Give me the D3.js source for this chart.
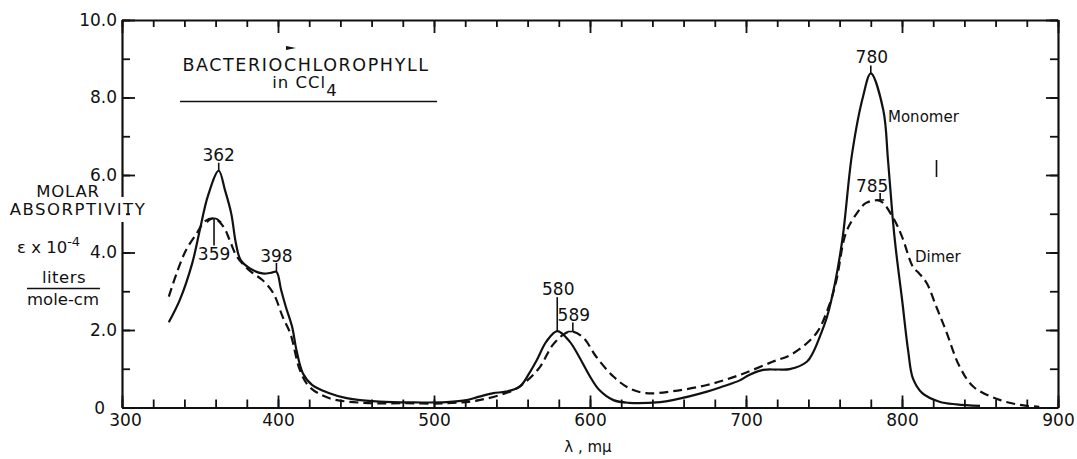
<!DOCTYPE html>
<html><head><meta charset="utf-8">
<script src="https://cdn.jsdelivr.net/npm/d3@7/dist/d3.min.js"></script>
<style>
body{margin:0;background:#fff;}
text{font-family:"DejaVu Sans",sans-serif;fill:#111;}
</style></head>
<body><svg id="c" width="1077" height="459"></svg>
<script>
// ---- data ----
const monomerLambda = [330,337,345,350,355,362,366,370,373,376,382,390,396,399,402,405,409,412,416,422,433,444,465,487,508,521,529,538,546,555,561,566,572,579,587,593,600,606,615,625,645,653,675,685,696,702,711,720,728,739,743,748,752,757,762,768,775,780,788,791,794,796,800,804,807,813,824,835,850];
const monomerValue  = [2.2,2.77,3.72,4.6,5.45,6.11,5.61,5.01,4.24,3.81,3.59,3.46,3.48,3.5,3.03,2.6,2.09,1.45,0.88,0.58,0.37,0.24,0.15,0.13,0.14,0.19,0.28,0.37,0.41,0.54,0.88,1.23,1.7,1.97,1.7,1.31,0.8,0.45,0.19,0.12,0.14,0.19,0.41,0.54,0.7,0.84,0.97,0.98,0.99,1.18,1.42,1.9,2.35,3.2,4.4,6.55,8.02,8.62,7.68,6.4,4.9,4.1,2.8,1.45,0.75,0.37,0.15,0.08,0.04];
const dimerLambda = [330,335,341,348,353,359,365,369,373,378,384,390,397,403,408,414,420,433,455,480,508,529,551,559,568,576,584,589,596,604,615,625,636,653,675,696,717,730,745,753,758,764,771,777,786,794,800,807,811,816,822,828,837,846,863,877,888];
const dimerValue  = [2.86,3.46,4.06,4.5,4.8,4.88,4.67,4.32,3.94,3.68,3.46,3.29,2.95,2.34,1.9,0.97,0.54,0.24,0.12,0.11,0.11,0.19,0.45,0.67,1.05,1.61,1.91,1.96,1.79,1.31,0.8,0.5,0.37,0.42,0.58,0.84,1.18,1.39,1.91,2.6,3.29,4.5,5.01,5.28,5.33,4.92,4.41,3.63,3.46,3.2,2.6,2.0,1.05,0.53,0.19,0.06,0.02];
const xMajorTicks = [300,400,500,600,700,800,900];
const yMajorTicks = [0,2,4,6,8,10];
const peakLabels = ["362","359","398","580","589","780","785"];

// ---- scales ----
const svg = d3.select("#c");
const x = d3.scaleLinear().domain([300,900]).range([122,1058]);
const y = d3.scaleLinear().domain([0,10]).range([407.5,20]);
const ink = "#111";

// ---- axes ----
const xMinor = d3.range(300,901,20);
const yMinor = d3.range(0,11,1);
function styleAxis(g){ g.selectAll("path.domain").attr("stroke",ink).attr("stroke-width",2.2);
  g.selectAll(".tick line").attr("stroke",ink).attr("stroke-width",1.8); }

// bottom
svg.append("g").attr("transform",`translate(0,${y(0)})`)
  .call(d3.axisBottom(x).tickValues(xMinor).tickSize(-8).tickSizeOuter(0).tickFormat(""))
  .call(styleAxis);
svg.append("g").attr("transform",`translate(0,${y(0)})`)
  .call(d3.axisBottom(x).tickValues(xMajorTicks).tickSize(-12).tickSizeOuter(0).tickPadding(6).tickFormat(d3.format("d")))
  .call(styleAxis)
  .call(g=>g.select("path.domain").remove())
  .selectAll("text").attr("font-size",17).attr("fill",ink)
  .attr("dx", d=> d===300 ? "3" : "0");
// top
svg.append("g").attr("transform",`translate(0,${y(10)})`)
  .call(d3.axisTop(x).tickValues(xMinor).tickSize(-7).tickSizeOuter(0).tickFormat(""))
  .call(styleAxis);
svg.append("g").attr("transform",`translate(0,${y(10)})`)
  .call(d3.axisTop(x).tickValues(xMajorTicks).tickSize(-13).tickSizeOuter(0).tickFormat(""))
  .call(styleAxis).call(g=>g.select("path.domain").remove());
// left
svg.append("g").attr("transform",`translate(${x(300)},0)`)
  .call(d3.axisLeft(y).tickValues(yMinor).tickSize(-8).tickSizeOuter(0).tickFormat(""))
  .call(styleAxis);
svg.append("g").attr("transform",`translate(${x(300)},0)`)
  .call(d3.axisLeft(y).tickValues(yMajorTicks).tickSize(-13).tickSizeOuter(0).tickPadding(5)
        .tickFormat(d=> d===0 ? "0" : d3.format(".1f")(d)))
  .call(styleAxis)
  .call(g=>g.select("path.domain").remove())
  .selectAll("text").attr("font-size",17).attr("fill",ink)
  .attr("dy", d=> d===0 ? "0.38em" : "0.3em")
  .attr("dx", d=> d===0 ? "-12" : "0");
// right
svg.append("g").attr("transform",`translate(${x(900)},0)`)
  .call(d3.axisRight(y).tickValues(yMinor).tickSize(-8).tickSizeOuter(0).tickFormat(""))
  .call(styleAxis);
svg.append("g").attr("transform",`translate(${x(900)},0)`)
  .call(d3.axisRight(y).tickValues(yMajorTicks).tickSize(-12).tickSizeOuter(0).tickFormat(""))
  .call(styleAxis).call(g=>g.select("path.domain").remove());

// gap in the left axis behind the axis title
svg.append("rect").attr("x",x(300)-4).attr("y",197).attr("width",8).attr("height",25).attr("fill","#fff");

// ---- curves ----
const line = d3.line().x(d=>x(d[0])).y(d=>y(d[1])).curve(d3.curveCatmullRom.alpha(0.5));
const mono = monomerLambda.map((l,i)=>[l,monomerValue[i]]);
const dim  = dimerLambda.map((l,i)=>[l,dimerValue[i]]);
svg.append("path").datum(mono).attr("d",line).attr("fill","none").attr("stroke",ink).attr("stroke-width",2.2);
svg.append("path").datum(dim).attr("d",line).attr("fill","none").attr("stroke",ink).attr("stroke-width",2.2)
  .attr("stroke-dasharray","9,5");

// ---- peak annotations ----
function val(arrL,arrV,l){ return arrV[arrL.indexOf(l)]; }
const fs = 17;
function label(t,cx,base){ svg.append("text").attr("x",cx).attr("y",base).attr("text-anchor","middle").attr("font-size",fs).text(t); }
function seg(x1,y1,x2,y2){ svg.append("line").attr("x1",x1).attr("y1",y1).attr("x2",x2).attr("y2",y2).attr("stroke",ink).attr("stroke-width",1.6); }
// 362 (monomer)
{ const px=x(362), py=y(val(monomerLambda,monomerValue,362));
  label(peakLabels[0],px,py-10); seg(px,py-8,px,py); }
// 359 (dimer)
{ const px=x(359), py=y(val(dimerLambda,dimerValue,359));
  svg.append("path").attr("d",`M${px-7},${py+4} Q${px},${py-4} ${px+7},${py+4}`).attr("fill","none").attr("stroke",ink).attr("stroke-width",1.6);
  seg(px,py,px,py+27); label(peakLabels[1],px,py+42); }
// 398 (monomer shoulder)
{ const px=x(399), py=y(val(monomerLambda,monomerValue,399));
  label(peakLabels[2],px,py-10); seg(px,py-9,px,py); }
// 580 (monomer)
{ const px=x(579), py=y(val(monomerLambda,monomerValue,579));
  label(peakLabels[3],px+1,py-36); seg(px,py-34,px,py); }
// 589 (dimer)
{ const px=x(589), py=y(val(dimerLambda,dimerValue,589));
  label(peakLabels[4],px+1,py-11); seg(px,py-9,px,py); seg(px-5,py,px,py); }
// 780 (monomer)
{ const px=x(780), py=y(val(monomerLambda,monomerValue,780));
  label(peakLabels[5],px+1,py-10); seg(px,py-8,px,py); }
// 785 (dimer)
{ const px=x(786), py=y(val(dimerLambda,dimerValue,786));
  label(peakLabels[6],px-8,py-9); seg(px,py-8,px,py-1); seg(px-4,py-1,px+4,py-1); }

// series names
svg.append("text").attr("x",888).attr("y",122).attr("font-size",15).text("Monomer");
svg.append("text").attr("x",915).attr("y",262).attr("font-size",15).text("Dimer");
// stray mark on the plate
seg(936.5,160,936.5,177);

// ---- title ----
svg.append("text").attr("x",306).attr("y",71).attr("text-anchor","middle").attr("font-size",17.5)
  .attr("letter-spacing",1.6).text("BACTERIOCHLOROPHYLL");
const t2 = svg.append("text").attr("x",305).attr("y",88).attr("text-anchor","middle").attr("font-size",16.5).attr("letter-spacing",1);
t2.append("tspan").text("in CCl");
t2.append("tspan").attr("dy",8).attr("font-size",16.5).text("4");
seg(180,101.5,437,101.5);
svg.append("path").attr("d","M286,46 L296,48 L286,50 Z").attr("fill",ink);

// ---- y-axis title ----
svg.append("text").attr("x",68).attr("y",197).attr("text-anchor","middle").attr("font-size",16.5).attr("letter-spacing",0.8).text("MOLAR");
svg.append("text").attr("x",78).attr("y",215).attr("text-anchor","middle").attr("font-size",16.5).attr("letter-spacing",1.5).text("ABSORPTIVITY");
const eps = svg.append("text").attr("x",17).attr("y",253).attr("font-size",16.5);
eps.append("tspan").text("\u03B5 x 10");
eps.append("tspan").attr("dy",-7).attr("font-size",13).text("-4");
svg.append("text").attr("x",64).attr("y",283).attr("text-anchor","middle").attr("font-size",16.5).attr("letter-spacing",0.5).text("liters");
seg(27,288.5,100,288.5);
svg.append("text").attr("x",63).attr("y",305).attr("text-anchor","middle").attr("font-size",16.5).text("mole-cm");

// ---- x-axis title ----
svg.append("text").attr("x",588).attr("y",452).attr("text-anchor","middle").attr("font-size",15).text("\u03BB , m\u03BC");
</script></body></html>
